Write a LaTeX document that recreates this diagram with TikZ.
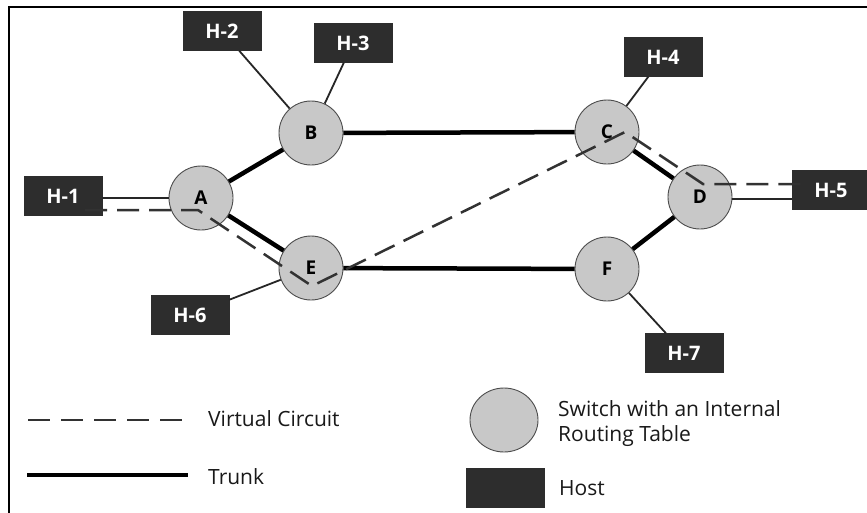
\documentclass[tikz,border=0pt]{standalone}
\usepackage{fontspec}
\setmainfont{Open Sans}
\usetikzlibrary{shapes.geometric}
\definecolor{swgray}{RGB}{200,200,200}
\definecolor{hostgray}{RGB}{45,45,45}
\definecolor{vcgray}{RGB}{50,50,50}
\begin{document}
\begin{tikzpicture}[x=1pt,y=-1pt,
  switch/.style={circle, draw=black!70, line width=0.9pt, fill=swgray, minimum size=64pt, inner sep=0pt, font=\bfseries\fontsize{19}{19}\selectfont},
  host/.style={rectangle, fill=hostgray, draw=hostgray, minimum width=78pt, minimum height=39pt, inner sep=0pt, text=white, font=\bfseries\fontsize{20}{20}\selectfont},
  trunk/.style={line width=4.5pt, black},
  link/.style={line width=1.8pt, black!85},
  vc/.style={line width=2.5pt, draw=vcgray, dash pattern=on 22pt off 10pt},
  legtext/.style={anchor=west, inner sep=0pt, align=left, font=\fontsize{21}{25}\selectfont, text=black!90}
]
\useasboundingbox (0,0) rectangle (867,512);
\fill[white] (0,0) rectangle (867,512);
\draw[line width=2.5pt] (9,515) -- (9,7) -- (870,7);

% switches
\node[switch] (A) at (201,198) {A};
\node[switch] (B) at (311,133) {B};
\node[switch] (C) at (607,132) {C};
\node[switch] (D) at (700,197) {D};
\node[switch] (E) at (311,268) {E};
\node[switch] (F) at (607,269) {F};

% hosts
\node[host] (H1) at (63,196) {H-1};
\node[host] (H2) at (222,31) {H-2};
\node[host] (H3) at (353,43) {H-3};
\node[host] (H4) at (663,57) {H-4};
\node[host] (H5) at (831,190) {H-5};
\node[host] (H6) at (190,315) {H-6};
\node[host] (H7) at (684,353) {H-7};

% host links
\draw[link] (H1.east |- A.west) -- (A.west);
\draw[link] (H2) -- (B);
\draw[link] (H3) -- (B);
\draw[link] (H4) -- (C);
\draw[link] ([yshift=-2pt]D.east) -- ([yshift=-2pt]D.east -| H5.west);
\draw[link] (H6) -- (E);
\draw[link] (H7) -- (F);

% trunks
\draw[trunk] (A) -- (B);
\draw[trunk] (A) -- (E);
\draw[trunk] (B) -- (C);
\draw[trunk] (E) -- (F);
\draw[trunk] (C) -- (D);
\draw[trunk] (D) -- (F);

% virtual circuit
\coordinate (v0) at (85,210);
\coordinate (v1) at (198,210);
\coordinate (v2) at (312,286);
\coordinate (v3) at (625,132);
\coordinate (v4) at (703,184);
\coordinate (v5) at (805,184);
\draw[vc] (v0) -- (v1) -- (v2) -- (v3) -- (v4) -- (v5);

% legend
\coordinate (lv0) at (28,420);
\coordinate (lv1) at (186,420);
\draw[vc, line width=2.2pt, dash pattern=on 22pt off 11pt] (lv0) -- (lv1);
\node[legtext] (tvc) at (208,419) {Virtual Circuit};
\coordinate (lt0) at (27,475);
\coordinate (lt1) at (188,475);
\draw[trunk] (lt0) -- (lt1);
\node[legtext] (ttr) at (208,477) {Trunk};
\node[switch, ellipse, minimum width=68pt, minimum height=64pt] (lsw) at (504,420) {};
\node[legtext] (tsw) at (558,424) {Switch with an Internal\\Routing Table};
\node[host] (lh) at (505,488) {};
\node[legtext] (th) at (559,488) {Host};
\end{tikzpicture}
\end{document}
